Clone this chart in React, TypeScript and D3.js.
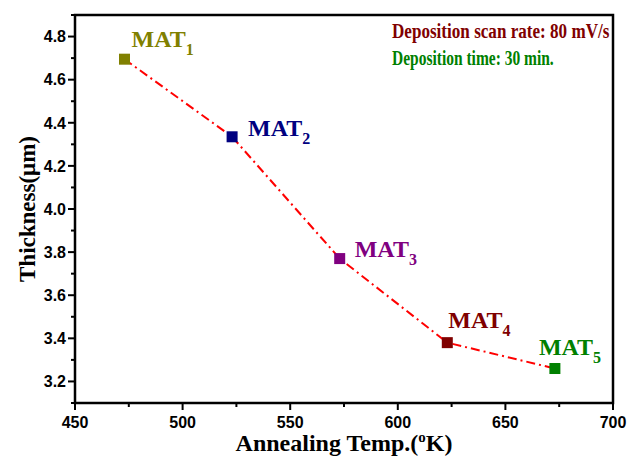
import React, { useEffect, useRef } from 'react'
import { select, scaleLinear, line, range } from 'd3'

const temps = [473, 523, 573, 623, 673]
const thickness = [4.695, 4.335, 3.77, 3.38, 3.26]
const labels = ['1', '2', '3', '4', '5']
const colors = ['#808000', '#000080', '#800080', '#800000', '#008000']
const xTicks = [450, 500, 550, 600, 650, 700]
const yTicks = [3.2, 3.4, 3.6, 3.8, 4.0, 4.2, 4.4, 4.6, 4.8]
const notes = ['Deposition scan rate: 80 mV/s', 'Deposition time: 30 min.']
const noteColors = ['#800000', '#008000']

const width = 628
const height = 456
const margin = { top: 15, right: 15, bottom: 53, left: 75 }

// label offsets from each marker (dx, dy of the text baseline)
const labelOffsets = [[7, -12], [16, -1], [15, -2], [1, -15], [-16, -14]]
// horizontal squeeze of the two note lines
const noteScale = [0.855, 0.775]

const serif = 'Liberation Serif, Times New Roman, serif'
const sans = 'Liberation Sans, Arial, sans-serif'

function App() {
  const xAxisRef = useRef()
  const yAxisRef = useRef()

  const x = scaleLinear().domain([450, 700]).range([margin.left, width - margin.right])
  const y = scaleLinear().domain([3.1, 4.9]).range([height - margin.bottom, margin.top])

  useEffect(() => {
    const xa = select(xAxisRef.current)
    xa.selectAll('*').remove()
    xa.selectAll('line').data(range(450, 701, 25)).enter().append('line')
      .attr('x1', d => x(d)).attr('x2', d => x(d))
      .attr('y1', 0).attr('y2', d => (d % 50 === 0 ? 7 : 4))
      .attr('stroke', '#000').attr('stroke-width', 2)
    xa.selectAll('text').data(xTicks).enter().append('text')
      .attr('x', d => x(d)).attr('y', 25)
      .attr('text-anchor', 'middle')
      .attr('fill', '#000')
      .attr('font-family', sans)
      .attr('font-weight', 'bold').attr('font-size', 16)
      .text(d => d)

    const ya = select(yAxisRef.current)
    ya.selectAll('*').remove()
    const minor = range(31, 50).map(v => v / 10)
    ya.selectAll('line').data(minor).enter().append('line')
      .attr('y1', d => y(d)).attr('y2', d => y(d))
      .attr('x1', 0).attr('x2', d => (Math.round(d * 10) % 2 === 0 ? -7 : -4))
      .attr('stroke', '#000').attr('stroke-width', 2)
    ya.selectAll('text').data(yTicks).enter().append('text')
      .attr('x', -9).attr('y', d => y(d)).attr('dy', '0.36em')
      .attr('text-anchor', 'end')
      .attr('fill', '#000')
      .attr('font-family', sans)
      .attr('font-weight', 'bold').attr('font-size', 16)
      .text(d => d.toFixed(1))
  }, [])

  const pts = temps.map((t, i) => [x(t), y(thickness[i])])
  const path = line()(pts)

  return (
    <svg width={width} height={height} style={{ position: 'absolute', left: 0, top: 0, background: '#fff' }}>
      <rect x={margin.left} y={margin.top}
        width={width - margin.left - margin.right}
        height={height - margin.top - margin.bottom}
        fill="none" stroke="#000" strokeWidth={2.5} />
      <g ref={xAxisRef} transform={`translate(0,${height - margin.bottom})`} />
      <g ref={yAxisRef} transform={`translate(${margin.left},0)`} />

      <path d={path} fill="none" stroke="#ff0000" strokeWidth={2} strokeDasharray="9 4 2 4" />

      {pts.map((p, i) => (
        <rect key={i} x={p[0] - 5.5} y={p[1] - 5.5} width={11} height={11} fill={colors[i]} />
      ))}

      {pts.map((p, i) => (
        <text key={'l' + i} x={p[0] + labelOffsets[i][0]} y={p[1] + labelOffsets[i][1]}
          fill={colors[i]} fontFamily={serif} fontWeight="bold" fontSize={24}>
          MAT<tspan fontSize={16} dy={8}>{labels[i]}</tspan>
        </text>
      ))}

      {notes.map((n, i) => (
        <text key={'n' + i} transform={`translate(392,${38 + i * 27}) scale(${noteScale[i]},1)`}
          fill={noteColors[i]} fontFamily={serif} fontWeight="bold" fontSize={20}>
          {n}
        </text>
      ))}

      <text x={(margin.left + width - margin.right) / 2} y={451} textAnchor="middle"
        fontFamily={serif} fontWeight="bold" fontSize={24}>
        Annealing Temp.(<tspan fontSize={15} dy={-9}>o</tspan><tspan dy={9}>K)</tspan>
      </text>

      <text transform={`translate(35,${(margin.top + height - margin.bottom) / 2}) rotate(-90)`}
        textAnchor="middle" fontFamily={serif} fontWeight="bold" fontSize={23}>
        Thickness(μm)
      </text>
    </svg>
  )
}

export default App
